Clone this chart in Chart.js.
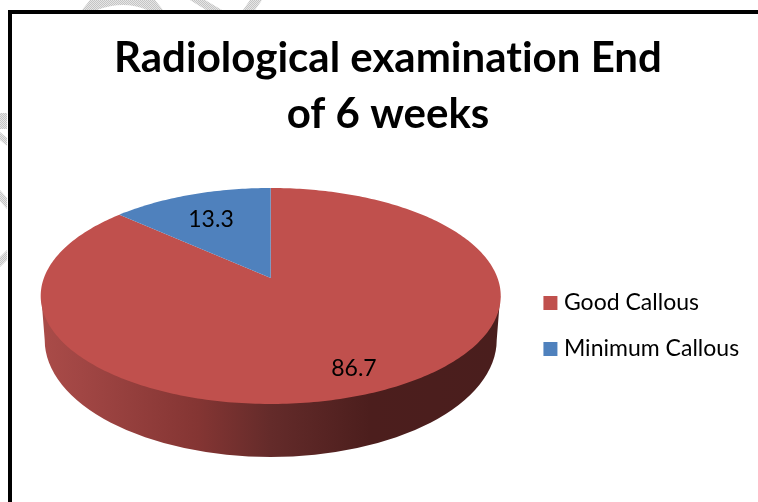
<!DOCTYPE html>
<html><head><meta charset="utf-8">
<script src="https://cdn.jsdelivr.net/npm/chart.js@4/dist/chart.umd.min.js"></script>
<style>
html,body{margin:0;padding:0;background:#fff;overflow:hidden}
#wrap{position:relative;width:758px;height:502px}
canvas{position:absolute;left:0;top:0}
#frameL{position:absolute;left:8px;top:10px;width:4px;height:492px;background:#000}
#frameT{position:absolute;left:8px;top:10px;width:750px;height:4px;background:#000}
svg{position:absolute;left:0;top:0}
</style></head><body>
<div id="wrap">
<svg width="758" height="502">
  <defs>
    <pattern id="dots" width="2" height="2" patternUnits="userSpaceOnUse">
      <rect width="2" height="2" fill="#e6e6e6"/>
      <rect width="1" height="1" fill="#c4c4c4"/>
      <rect x="1" y="1" width="1" height="1" fill="#c4c4c4"/>
    </pattern>
  </defs>
  <g fill="url(#dots)">
    <path d="M82 10 L90 0 L155 0 L163 10 L147 10 Q124 0 97 10 Z"/>
    <path d="M190 0 L205 0 L222 10 L206 10 Z"/>
    <path d="M250 0 L262 0 L255 10 L243 10 Z"/>
    <path d="M0 113 L7 113 L7 129 L0 129 Z"/>
    <path d="M0 132 L7 138 L7 146 L0 140 Z"/>
    <path d="M0 190 L7 198 L7 209 L0 201 Z"/>
    <path d="M7 250 L7 260 L0 267 L0 257 Z"/>
  </g>
</svg>
<canvas id="c" width="758" height="502"></canvas>
<div id="frameL"></div><div id="frameT"></div>
</div>
<script>
const categories = ['Good Callous', 'Minimum Callous'];
const values = [86.7, 13.3];
const sliceColors = ['#C0504D', '#4F81BD'];
const titleLines = ['Radiological examination End', 'of 6 weeks'];

// Perspective tilt of the pie, relative to the centre the library computes.
const X_OFFSET = -5.5, APEX_DY = -48, K = 226.8, A = 105, C = -1 / 6;
const project = (arc, u, v) => {
  const w = 1 + C * v;
  return [arc.x + X_OFFSET + K * u / w, arc.y + APEX_DY + (A * v) / w];
};
const onRim = (arc, angle, r = 1) => project(arc, r * Math.cos(angle), r * Math.sin(angle));

Chart.ArcElement.prototype.draw = function (ctx) {
  const { startAngle, endAngle } = this;
  const steps = Math.max(2, Math.ceil((endAngle - startAngle) * 60));
  ctx.save();
  ctx.fillStyle = this.options.backgroundColor;
  ctx.beginPath();
  const apex = project(this, 0, 0);
  ctx.moveTo(apex[0], apex[1]);
  for (let i = 0; i <= steps; i++) {
    const p = onRim(this, startAngle + (endAngle - startAngle) * i / steps);
    ctx.lineTo(p[0], p[1]);
  }
  ctx.closePath();
  ctx.fill();
  ctx.restore();
};

const pie3d = {
  id: 'pie3d',
  beforeDraw(chart) {
    chart.ctx.letterSpacing = '0.01px';
  },
  beforeDatasetsDraw(chart) {
    const arc = chart.getDatasetMeta(0).data[0];
    const ctx = chart.ctx;
    const x = arc.x + X_OFFSET, top = arc.y - 30, low = arc.y + 14;
    const g = ctx.createLinearGradient(x - 226, 0, x + 226, 0);
    g.addColorStop(0, '#A94B48');
    g.addColorStop(0.08, '#A14644');
    g.addColorStop(0.34, '#843533');
    g.addColorStop(0.5, '#642B2A');
    g.addColorStop(0.72, '#4C1E1D');
    g.addColorStop(1, '#4A1E1D');
    ctx.save();
    ctx.fillStyle = g;
    ctx.beginPath();
    ctx.moveTo(x - 229.5, top);
    ctx.lineTo(x - 226, low);
    ctx.ellipse(x, low, 226, 117, 0, Math.PI, 0, true);
    ctx.lineTo(x + 229.5, top);
    ctx.closePath();
    ctx.fill();
    ctx.restore();
  },
  afterDatasetsDraw(chart) {
    const ctx = chart.ctx;
    const radii = [0.82, 0.68];
    ctx.save();
    ctx.fillStyle = '#000';
    ctx.font = '23px Lato';
    ctx.textAlign = 'center';
    ctx.textBaseline = 'middle';
    chart.getDatasetMeta(0).data.forEach((arc, i) => {
      const p = onRim(arc, (arc.startAngle + arc.endAngle) / 2, radii[i]);
      ctx.fillText(String(values[i]), p[0] - 3, p[1] + 1);
    });
    ctx.restore();
  }
};

new Chart(document.getElementById('c'), {
  type: 'pie',
  data: { labels: categories, datasets: [{ data: values, backgroundColor: sliceColors, borderWidth: 0 }] },
  plugins: [pie3d],
  options: {
    responsive: false,
    animation: false,
    layout: { padding: { left: 27, right: 9, top: 30, bottom: 0 } },
    plugins: {
      title: {
        display: true,
        text: titleLines,
        color: '#000',
        font: { family: 'Lato', size: 42, weight: 'bold', lineHeight: 1.333 },
        padding: { top: 0, bottom: 8 }
      },
      legend: {
        position: 'right',
        fullSize: false,
        labels: {
          usePointStyle: true, pointStyle: 'rect',
          boxWidth: 4, boxHeight: 14, padding: 23, color: '#000',
          font: { family: 'Lato', size: 23 }
        }
      },
      tooltip: { enabled: false }
    }
  }
});
</script>
</body></html>
